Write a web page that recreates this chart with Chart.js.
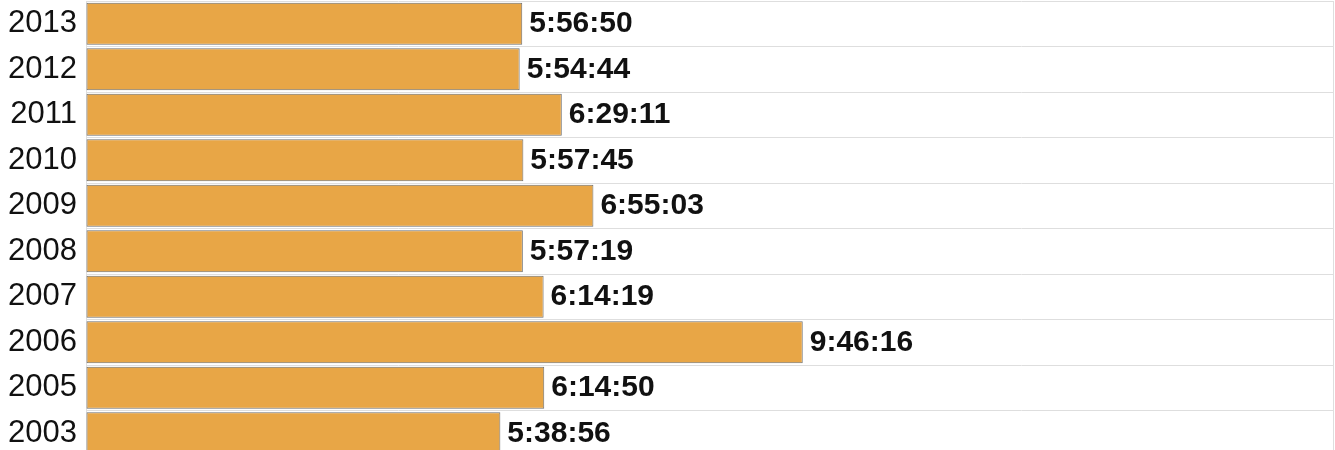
<!DOCTYPE html>
<html>
<head>
<meta charset="utf-8">
<script src="https://cdn.jsdelivr.net/npm/chart.js@4/dist/chart.umd.min.js"></script>
<style>
  html, body { margin: 0; padding: 0; background: #fff; overflow: hidden; }
</style>
</head>
<body>
<canvas id="myChart" width="1335" height="457"></canvas>
<script>
const years = ['2013', '2012', '2011', '2010', '2009', '2008', '2007', '2006', '2005', '2003'];
const times = ['5:56:50', '5:54:44', '6:29:11', '5:57:45', '6:55:03', '5:57:19', '6:14:19', '9:46:16', '6:14:50', '5:38:56'];
const axisMax = 61200; // 17 hours in seconds

// H:MM:SS -> seconds
const toSeconds = t => {
  const p = t.split(':').map(Number);
  return p[0] * 3600 + p[1] * 60 + p[2];
};
const seconds = times.map(toSeconds);

const valueLabels = {
  id: 'value_labels',
  afterDatasetsDraw: (chart) => {
    const {ctx} = chart;
    const meta = chart.getDatasetMeta(0);
    ctx.save();
    ctx.font = 'bold 30px "Liberation Sans", Arial, sans-serif';
    ctx.fillStyle = '#111';
    ctx.textAlign = 'left';
    ctx.textBaseline = 'middle';
    meta.data.forEach((bar, i) => {
      ctx.fillText(times[i], bar.x + 7, bar.y);
    });
    ctx.restore();
  }
};

const data = {
  labels: years,
  datasets: [{
    data: seconds,
    backgroundColor: '#e8a646',
    borderColor: '#6e6e6e',
    borderWidth: 1,
    borderSkipped: false,
    categoryPercentage: 1,
    barPercentage: 0.92
  }]
};

const config = {
  type: 'bar',
  data: data,
  options: {
    indexAxis: 'y',
    responsive: false,
    animation: false,
    layout: {
      padding: {top: 1, right: 2, bottom: 1, left: 0}
    },
    plugins: {
      legend: {display: false},
      tooltip: {enabled: false}
    },
    scales: {
      x: {
        min: 0,
        max: axisMax,
        afterFit: (scale) => {
          scale.height = 0;
          scale.paddingLeft = 0;
          scale.paddingRight = 0;
        },
        ticks: {display: false, stepSize: axisMax},
        grid: {
          color: '#dedede',
          drawTicks: false
        },
        border: {display: false}
      },
      y: {
        afterFit: (scale) => {
          scale.width = 86;
          scale.paddingTop = 0;
          scale.paddingBottom = 0;
        },
        ticks: {
          color: '#111',
          padding: 9,
          font: {family: '"Liberation Sans", Arial, sans-serif', size: 31}
        },
        grid: {
          color: '#dedede',
          drawTicks: false,
          offset: true
        },
        border: {color: '#dedede'}
      }
    }
  },
  plugins: [valueLabels]
};

const myChart = new Chart(document.getElementById('myChart'), config);
</script>
</body>
</html>
